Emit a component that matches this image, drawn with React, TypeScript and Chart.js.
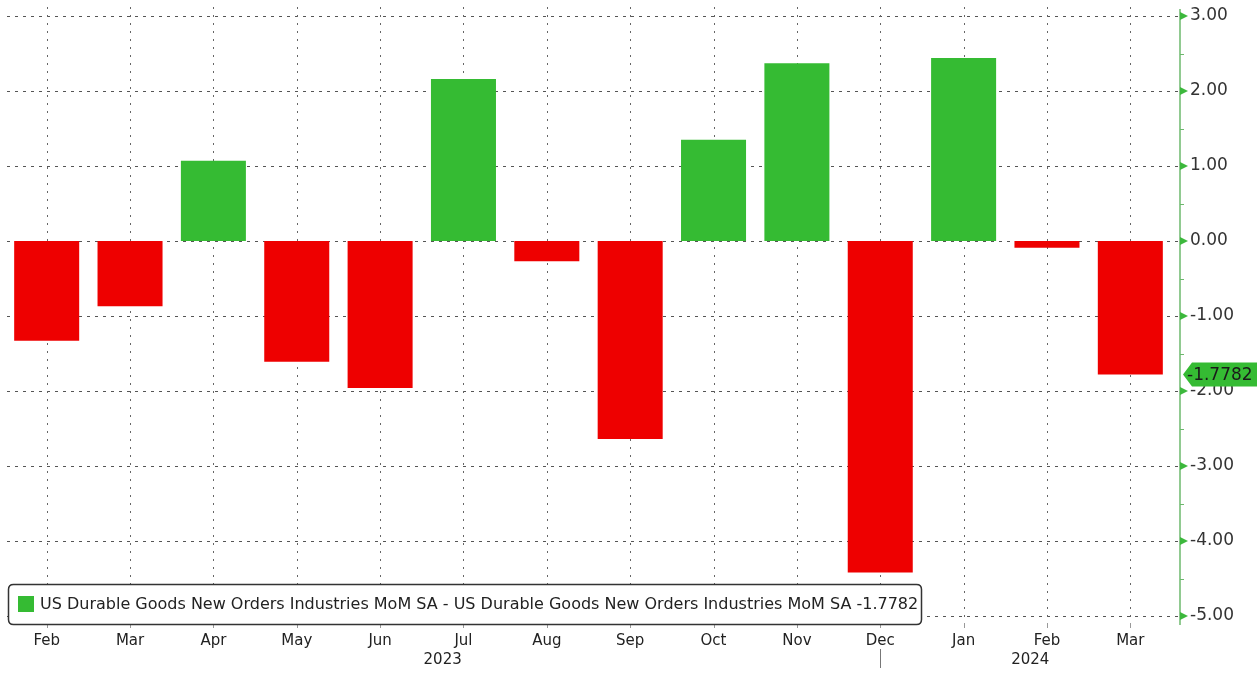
import React, { useEffect, useRef } from "react";
import { Chart, registerables } from "chart.js";

Chart.register(...registerables);

const categories = ["Feb", "Mar", "Apr", "May", "Jun", "Jul", "Aug", "Sep", "Oct", "Nov", "Dec", "Jan", "Feb", "Mar"];
const values = [-1.33, -0.87, 1.07, -1.61, -1.96, 2.16, -0.27, -2.64, 1.35, 2.37, -4.42, 2.44, -0.09, -1.7782];
const yTicks = [3, 2, 1, 0, -1, -2, -3, -4, -5];
const years = [
  { label: "2023", at: 4.75 },
  { label: "2024", at: 11.8 },
];
const lastValue = -1.7782;
const legendText =
  "US Durable Goods New Orders Industries MoM SA - US Durable Goods New Orders Industries MoM SA -1.7782";

const GREEN = "#35bb33";
const RED = "#ee0000";
const FONT = "DejaVu Sans";
const AXIS_GAP = 8;

const decor = {
  id: "decor",
  beforeDatasetsDraw(chart: any) {
    const { ctx, chartArea, scales } = chart;
    const x = scales.x;
    const y = scales.y;
    const ax = chartArea.right + AXIS_GAP;
    ctx.save();
    ctx.strokeStyle = "#555";
    ctx.lineWidth = 1;
    ctx.setLineDash([3, 5]);
    yTicks.forEach((v) => {
      const py = Math.round(y.getPixelForValue(v)) + 0.5;
      ctx.beginPath();
      ctx.moveTo(chartArea.left + 2, py);
      ctx.lineTo(ax, py);
      ctx.stroke();
    });
    ctx.strokeStyle = "#666";
    ctx.setLineDash([2, 6]);
    categories.forEach((_, i) => {
      const px = Math.round(x.getPixelForValue(i)) + 0.5;
      ctx.beginPath();
      ctx.moveTo(px, chartArea.top + 6);
      ctx.lineTo(px, chartArea.bottom);
      ctx.stroke();
    });
    ctx.restore();
  },
  afterDraw(chart: any) {
    const { ctx, chartArea, scales } = chart;
    const x = scales.x;
    const y = scales.y;
    ctx.save();
    const ax = chartArea.right + AXIS_GAP;
    // axis line
    ctx.strokeStyle = "#6cb86c";
    ctx.lineWidth = 1.5;
    ctx.beginPath();
    ctx.moveTo(ax, chartArea.top + 8);
    ctx.lineTo(ax, chartArea.bottom + 2);
    ctx.stroke();
    // axis triangles and minor ticks
    ctx.fillStyle = "#3cb83c";
    yTicks.forEach((v) => {
      const py = y.getPixelForValue(v);
      ctx.beginPath();
      ctx.moveTo(ax, py - 4);
      ctx.lineTo(ax + 8, py);
      ctx.lineTo(ax, py + 4);
      ctx.closePath();
      ctx.fill();
    });
    ctx.strokeStyle = "#6cb86c";
    ctx.lineWidth = 1;
    for (let v = -4.5; v <= 2.5; v += 1) {
      const py = Math.round(y.getPixelForValue(v)) + 0.5;
      ctx.beginPath();
      ctx.moveTo(ax, py);
      ctx.lineTo(ax + 4, py);
      ctx.stroke();
    }
    // last value tag
    const ty = y.getPixelForValue(lastValue);
    const tl = ax + 3;
    const tr = 1257;
    const h = 12;
    ctx.fillStyle = GREEN;
    ctx.beginPath();
    ctx.moveTo(tl, ty);
    ctx.lineTo(tl + 9, ty - h);
    ctx.lineTo(tr, ty - h);
    ctx.lineTo(tr, ty + h);
    ctx.lineTo(tl + 9, ty + h);
    ctx.closePath();
    ctx.fill();
    ctx.fillStyle = "#1a1a1a";
    ctx.font = `17px "${FONT}"`;
    ctx.textAlign = "left";
    ctx.textBaseline = "middle";
    ctx.fillText(lastValue.toFixed(4), tl + 4, ty + 1);
    // x tick marks
    ctx.strokeStyle = "#999";
    categories.forEach((_, i) => {
      const px = Math.round(x.getPixelForValue(i)) + 0.5;
      ctx.beginPath();
      ctx.moveTo(px, chartArea.bottom);
      ctx.lineTo(px, chartArea.bottom + 5);
      ctx.stroke();
    });
    // year labels
    ctx.fillStyle = "#222";
    ctx.textAlign = "center";
    ctx.textBaseline = "middle";
    ctx.font = `15px "${FONT}"`;
    const step = x.getPixelForValue(1) - x.getPixelForValue(0);
    years.forEach((yr) => {
      const px = x.getPixelForValue(0) + yr.at * step;
      ctx.fillText(yr.label, px, 660);
    });
    // year separator
    const sx = Math.round(x.getPixelForValue(10)) + 0.5;
    ctx.strokeStyle = "#777";
    ctx.beginPath();
    ctx.moveTo(sx, 649);
    ctx.lineTo(sx, 668);
    ctx.stroke();
    // legend box
    const lx = 8.5, ly = 584.5, lw = 913, lh = 40, r = 5;
    ctx.fillStyle = "#fff";
    ctx.strokeStyle = "#333";
    ctx.lineWidth = 1.5;
    ctx.beginPath();
    ctx.moveTo(lx + r, ly);
    ctx.lineTo(lx + lw - r, ly);
    ctx.quadraticCurveTo(lx + lw, ly, lx + lw, ly + r);
    ctx.lineTo(lx + lw, ly + lh - r);
    ctx.quadraticCurveTo(lx + lw, ly + lh, lx + lw - r, ly + lh);
    ctx.lineTo(lx + r, ly + lh);
    ctx.quadraticCurveTo(lx, ly + lh, lx, ly + lh - r);
    ctx.lineTo(lx, ly + r);
    ctx.quadraticCurveTo(lx, ly, lx + r, ly);
    ctx.closePath();
    ctx.fill();
    ctx.stroke();
    ctx.fillStyle = GREEN;
    ctx.fillRect(18, 596, 16, 16);
    ctx.fillStyle = "#222";
    ctx.textAlign = "left";
    ctx.font = `16px "${FONT}"`;
    ctx.fillText(legendText, 40, 605);
    ctx.restore();
  },
};

export default function App() {
  const ref = useRef<HTMLCanvasElement | null>(null);
  useEffect(() => {
    document.body.style.margin = "0";
    const canvas = ref.current;
    if (!canvas) return;
    const chart = new Chart(canvas, {
      type: "bar",
      data: {
        labels: categories,
        datasets: [
          {
            data: values,
            backgroundColor: values.map((v) => (v >= 0 ? GREEN : RED)),
            borderWidth: 0,
            categoryPercentage: 1,
            barPercentage: 0.78,
          },
        ],
      },
      options: {
        responsive: false,
        animation: false,
        events: [],
        layout: { padding: { left: 5, top: 1, right: 0, bottom: 0 } },
        plugins: { legend: { display: false }, tooltip: { enabled: false } },
        scales: {
          x: {
            grid: { display: false },
            border: { display: false },
            ticks: {
              color: "#222",
              font: { family: FONT, size: 15 },
              padding: 1,
              maxRotation: 0,
              autoSkip: false,
            },
            afterFit(scale: any) {
              scale.height = 50;
            },
          },
          y: {
            position: "right",
            min: -5.093,
            max: 3.2,
            grid: { display: false, drawTicks: true, tickLength: 18 },
            border: { display: false },
            afterBuildTicks(scale: any) {
              scale.ticks = yTicks.map((v) => ({ value: v }));
            },
            ticks: {
              color: "#333",
              font: { family: FONT, size: 17 },
              padding: 0,
              callback: (v: any) => Number(v).toFixed(2),
            },
            afterFit(scale: any) {
              scale.width = 88;
              scale.paddingTop = 0;
              scale.paddingBottom = 0;
            },
          },
        },
      },
      plugins: [decor],
    });
    return () => chart.destroy();
  }, []);
  return (
    <div style={{ width: 1260, height: 673 }}>
      <canvas ref={ref} width={1260} height={673} />
    </div>
  );
}
